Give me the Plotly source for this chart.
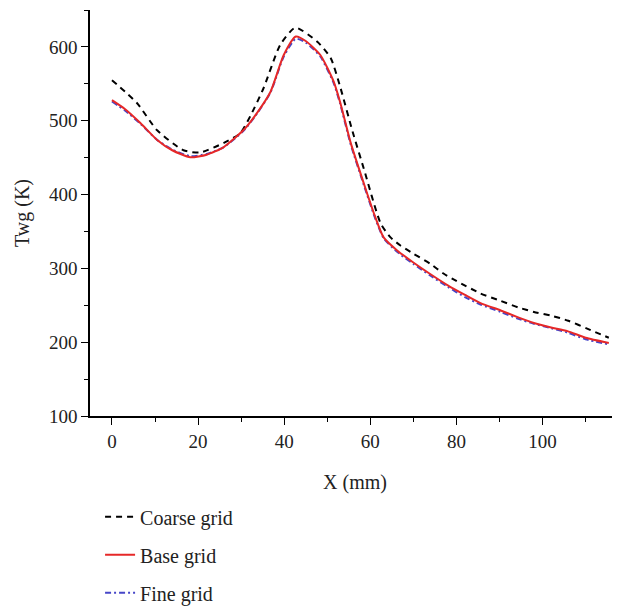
import plotly.graph_objects as go

# Base grid
base_x = [0, 3, 6.6, 10.5, 14, 18.2, 22, 25.9, 30.5, 33, 36.8, 39.9, 42.7, 45, 48.4, 51.5, 53, 55.4, 58.5, 61, 63.1, 66.3, 70, 74, 78, 82, 85.6, 90.3, 94.2, 98, 102, 105.8, 110, 115.4]
base_y = [528, 516, 497, 474, 460, 450.5, 454, 464, 487, 505, 539, 589, 614, 608, 589, 553, 525, 471, 415, 372, 342, 324, 308, 292, 277, 264, 253, 243, 234, 226, 220, 215, 206, 199]

# Fine grid
fine_x = base_x
fine_y = [526, 514, 496, 474, 461, 452, 455, 464, 486, 504, 538, 587, 611, 606, 587, 551, 523, 469, 413, 370, 341, 322, 306, 290, 275, 261, 251, 241, 232, 225, 219, 213, 204, 197]

# Coarse grid
coarse_x = [0, 5.8, 10.5, 16.6, 20.5, 26, 29.8, 32.2, 35.2, 39.1, 42.6, 47.7, 50.8, 53.1, 55.9, 58.5, 62.4, 64.7, 67, 70, 74, 77, 80, 85.6, 90.3, 94.4, 98, 102, 106, 110.5, 115.4]
coarse_y = [555, 524, 487, 460, 457, 470, 483, 507, 544, 603, 626, 607, 585, 544, 485, 435, 361, 342, 331, 320, 306, 293, 283, 266, 256, 247, 241, 236, 229, 218, 206]

x_ticks = [0, 20, 40, 60, 80, 100]
y_ticks = [100, 200, 300, 400, 500, 600]

FONT = "Liberation Serif"

fig = go.Figure()
fig.add_trace(go.Scatter(x=coarse_x, y=coarse_y, mode="lines", name="Coarse grid",
                         legendgroup="a", legendrank=1,
                         line=dict(color="black", width=2, dash="6px,5px", shape="spline", smoothing=0.6)))
fig.add_trace(go.Scatter(x=fine_x, y=fine_y, mode="lines", name="Fine grid",
                         legendgroup="c", legendrank=3,
                         line=dict(color="rgb(70,70,200)", width=2, dash="6px,3px,2px,3px", shape="spline", smoothing=0.6)))
fig.add_trace(go.Scatter(x=base_x, y=base_y, mode="lines", name="Base grid",
                         legendgroup="b", legendrank=2,
                         line=dict(color="rgb(230,40,40)", width=2, shape="spline", smoothing=0.6)))

fig.update_layout(
    width=620, height=616,
    margin=dict(l=82, r=8, t=2, b=208, autoexpand=False),
    paper_bgcolor="white", plot_bgcolor="white",
    font=dict(family=FONT, size=19, color="#222"),
    showlegend=True,
    legend=dict(x=0.019, y=-0.2, xanchor="left", yanchor="top",
                traceorder="grouped", tracegroupgap=9,
                font=dict(family=FONT, size=20, color="#222"),
                bgcolor="rgba(0,0,0,0)"),
    xaxis=dict(range=[-5.1, 118], tickvals=x_ticks, showgrid=False, zeroline=False,
               automargin=False,
               showline=True, linecolor="black", linewidth=1.5,
               ticks="outside", ticklen=7, tickcolor="black", tickwidth=1.2,
               minor=dict(dtick=10, tick0=10, ticks="outside", ticklen=4, tickcolor="black", tickwidth=1.2),
               title=dict(text="X (mm)", font=dict(size=20), standoff=24)),
    yaxis=dict(range=[100, 650], tickvals=y_ticks, showgrid=False, zeroline=False,
               automargin=False,
               showline=True, linecolor="black", linewidth=1.5,
               ticks="outside", ticklen=7, tickcolor="black", tickwidth=1.2,
               minor=dict(dtick=50, tick0=50, ticks="outside", ticklen=4, tickcolor="black", tickwidth=1.2),
               title=dict(text="Twg (K)", font=dict(size=20), standoff=14)),
)

fig.write_html("out.html")
